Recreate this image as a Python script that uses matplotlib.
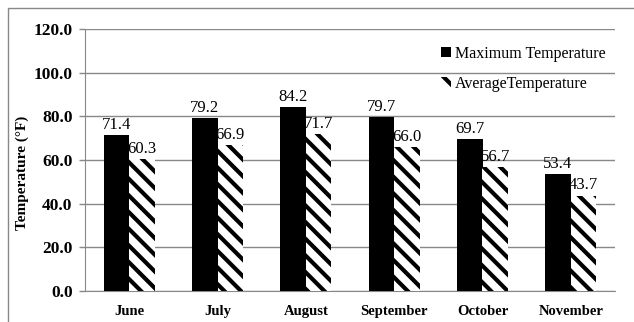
import numpy as np
import matplotlib.pyplot as plt
from matplotlib.patches import Rectangle

months = ['June', 'July', 'August', 'September', 'October', 'November']
max_temp = [71.4, 79.2, 84.2, 79.7, 69.7, 53.4]
avg_temp = [60.3, 66.9, 71.7, 66.0, 56.7, 43.7]
yticks = [0, 20, 40, 60, 80, 100, 120]

plt.rcParams['font.family'] = ['Liberation Serif', 'DejaVu Serif']
plt.rcParams['hatch.linewidth'] = 3.0

fig = plt.figure(figsize=(6.34, 3.22), dpi=100)
# outer chart border
fig.patches.append(Rectangle((8 / 634, -0.1), 1.0, 1.1 - 8 / 322, transform=fig.transFigure,
                             fill=False, edgecolor='#888888', linewidth=1.0))
ax = fig.add_axes([85 / 634, 1 - 291 / 322, 530 / 634, 262 / 322])

x = np.arange(len(months))
w = 0.29
ax.bar(x - w / 2, max_temp, w, color='black', label='Maximum Temperature', zorder=3)
ax.bar(x + w / 2, avg_temp, w, color='white', edgecolor='black', linewidth=0,
       hatch='\\\\', label='AverageTemperature', zorder=3)

for xi, v in zip(x - w / 2, max_temp):
    ax.text(xi, v + 1, f'{v:.1f}', ha='center', va='bottom', fontsize=12, zorder=4)
for xi, v in zip(x + w / 2, avg_temp):
    ax.text(xi, v + 1, f'{v:.1f}', ha='center', va='bottom', fontsize=12, zorder=4)

ax.set_xlim(-0.5, len(months) - 0.5)
ax.set_ylim(0, 120)
ax.set_yticks(yticks)
ax.set_yticklabels([f'{t:.1f}' for t in yticks], fontweight='bold', fontsize=12.5)
ax.set_xticks(x)
ax.set_xticklabels(months, fontweight='bold', fontsize=10.5)
ax.tick_params(axis='x', length=0, pad=10)
ax.tick_params(axis='y', length=4, color='#888888', width=1.0, pad=5)
ax.yaxis.grid(True, color='#888888', linewidth=1.0, zorder=0)
for s in ['top', 'right']:
    ax.spines[s].set_visible(False)
ax.spines['left'].set_color('#888888')
ax.spines['bottom'].set_color('#888888')
ax.set_ylabel('Temperature (°F)', fontweight='bold', fontsize=11)
ax.yaxis.set_label_coords(-0.105, 0.45)

ax.legend(loc='upper right', bbox_to_anchor=(1.01, 0.99), frameon=False, fontsize=11.5,
          handlelength=0.6, handleheight=0.6, handletextpad=0.3, labelspacing=0.85)

fig.savefig('out.png', dpi=100)
